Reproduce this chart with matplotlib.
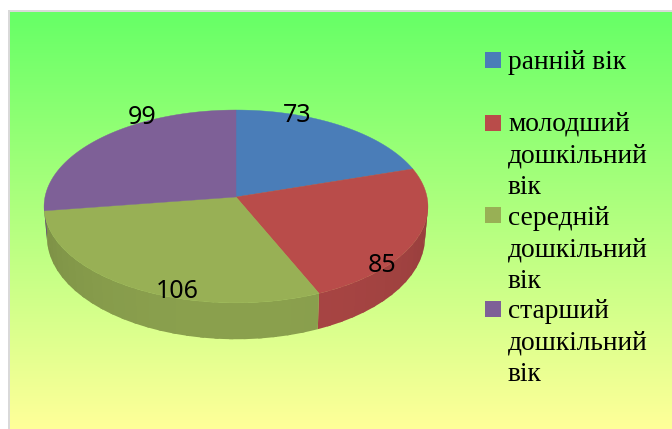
import numpy as np
import matplotlib
matplotlib.use('Agg')
import matplotlib.pyplot as plt
from matplotlib.colors import LinearSegmentedColormap, to_rgb
from matplotlib.patches import Polygon, Rectangle

categories = ['ранній вік', 'молодший\nдошкільний\nвік', 'середній\nдошкільний\nвік',
              'старший\nдошкільний\nвік']
values = [73, 85, 106, 99]
colors = ['#4a7db8', '#b94c4a', '#98b055', '#7e6097']
label_pos = [(297, 115), (382, 266), (177, 292), (142, 117)]
legend_y = [61, 123, 217, 310]
box_y = [60, 123, 215, 309]

# pie geometry in pixels, k gives the tilt perspective
cx, cy = 236, 197
rx, ry, k = 191, 95.5, 0.098


def top_ring(t):
    u, v = np.sin(t), np.cos(t)
    return cx + rx * u / (1 + k * v), -ry * v / (1 + k * v)


def bottom_ring(t):
    x, y = top_ring(t)
    return cx + (x - cx) * 0.985, y * 1.06 + 30


fig = plt.figure(figsize=(6.72, 4.29), dpi=100, facecolor='white')
ax = fig.add_axes([0, 0, 1, 1])
ax.set_xlim(0, 672)
ax.set_ylim(429, 0)
ax.axis('off')

cmap = LinearSegmentedColormap.from_list('bg', ['#66ff66', '#ffff99'])
ax.imshow(np.linspace(0, 1, 256)[:, None], cmap=cmap, aspect='auto',
          extent=(10, 672, 429, 11), zorder=0)
ax.add_patch(Rectangle((8, 10), 2, 419, fc='#d9d9d9', ec='none', zorder=1))
ax.add_patch(Rectangle((8, 10), 664, 1.5, fc='#d9d9d9', ec='none', zorder=1))

edges = np.cumsum([0] + values) / sum(values) * 2 * np.pi

# side of the disc, wide facets that overlap a little so no seams show
for i, c in enumerate(colors):
    ts = np.arange(edges[i], edges[i + 1] + 0.07, 0.07)
    ts[-1] = edges[i + 1]
    for t0, t1 in zip(ts[:-1], ts[1:]):
        if np.cos(t0) > -k and np.cos(t1) > -k:
            continue
        t_mid = np.linspace(t0, min(t1 + 0.02, edges[i + 1]), 6)
        xa, ya = top_ring(t_mid)
        xb, yb = bottom_ring(t_mid)
        pts = list(zip(xa, cy + ya)) + list(zip(xb[::-1], cy + yb[::-1]))
        shade = 0.80 + 0.11 * min(1, -np.cos((t0 + t1) / 2))
        fc = tuple(np.array(to_rgb(c)) * shade)
        ax.add_patch(Polygon(pts, closed=True, fc=fc, ec='none', zorder=2))

# top face
for i, c in enumerate(colors):
    ts = np.linspace(edges[i], edges[i + 1], 120)
    x, y = top_ring(ts)
    pts = [(cx, cy)] + list(zip(x, cy + y))
    ax.add_patch(Polygon(pts, closed=True, fc=c, ec=c, lw=0.3, zorder=3))

for v, (x, y) in zip(values, label_pos):
    ax.text(x, y, str(v), ha='center', va='center', fontsize=18,
            family='Noto Sans', color='black', zorder=5)

for c, name, ty, by in zip(colors, categories, legend_y, box_y):
    ax.add_patch(Rectangle((485, by - 8), 16, 16, fc=c, ec='none', zorder=4))
    ax.text(508, ty - 11, name, ha='left', va='top', fontsize=19.8,
            family='Liberation Serif', color='black', linespacing=1.33, zorder=5)

fig.savefig('out.png', dpi=100)
